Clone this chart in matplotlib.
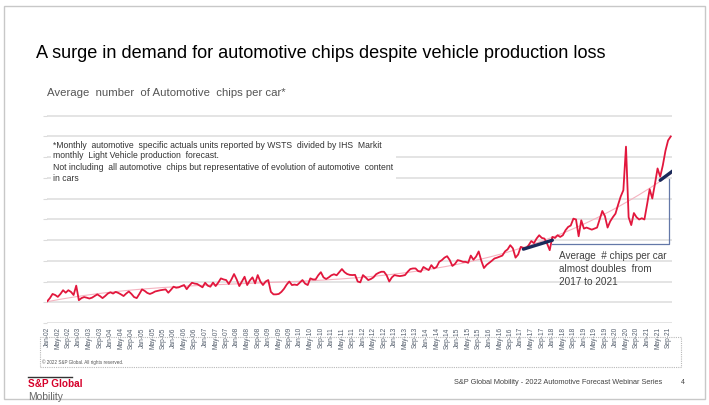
import numpy as np
import matplotlib.pyplot as plt
from matplotlib.patches import Rectangle
from matplotlib.lines import Line2D

W, H = 709, 405

# average number of automotive chips per car, monthly Jan-02 .. Oct-21
chips_2002 = [1.05, 1.20, 1.40, 1.35, 1.26, 1.40, 1.58, 1.46, 1.58, 1.50, 1.35, 1.80]
chips_2003 = [1.10, 1.20, 1.25, 1.22, 1.18, 1.22, 1.30, 1.38, 1.30, 1.20, 1.30, 1.42]
chips_2004 = [1.48, 1.42, 1.50, 1.45, 1.38, 1.30, 1.42, 1.52, 1.40, 1.25, 1.20, 1.40]
chips_2005 = [1.62, 1.55, 1.45, 1.40, 1.45, 1.52, 1.55, 1.58, 1.60, 1.62, 1.46, 1.60]
chips_2006 = [1.75, 1.70, 1.72, 1.78, 1.83, 1.63, 1.80, 1.94, 1.90, 1.88, 1.80, 1.72]
chips_2007 = [1.94, 1.80, 1.75, 1.95, 1.78, 1.95, 2.15, 2.10, 2.07, 1.88, 2.10, 2.36]
chips_2008 = [2.10, 1.78, 2.00, 2.23, 1.83, 2.05, 2.20, 1.91, 2.31, 2.00, 1.83, 2.00]
chips_2009 = [2.07, 1.50, 1.38, 1.38, 1.40, 1.50, 1.65, 1.85, 2.00, 1.83, 1.85, 1.83]
chips_2010 = [1.95, 2.07, 1.90, 1.83, 2.15, 2.10, 2.10, 2.30, 2.45, 2.20, 2.12, 2.20]
chips_2011 = [2.30, 2.35, 2.30, 2.45, 2.60, 2.45, 2.36, 2.32, 2.31, 2.32, 2.00, 1.96]
chips_2012 = [2.31, 2.20, 2.07, 2.12, 2.20, 2.35, 2.42, 2.47, 2.47, 2.30, 2.00, 2.20]
chips_2013 = [2.31, 2.28, 2.26, 2.28, 2.31, 2.47, 2.60, 2.63, 2.63, 2.50, 2.47, 2.70]
chips_2014 = [2.62, 2.55, 2.79, 2.63, 2.70, 2.95, 3.03, 3.15, 3.22, 3.03, 2.75, 2.85]
chips_2015 = [3.03, 3.00, 2.95, 2.95, 2.90, 3.25, 3.05, 3.20, 3.45, 3.00, 2.65, 2.80]
chips_2016 = [2.90, 3.00, 3.11, 3.15, 3.20, 3.25, 3.45, 3.55, 3.75, 3.60, 3.15, 3.30]
chips_2017 = [3.67, 3.62, 3.59, 3.75, 3.95, 3.85, 4.07, 4.23, 4.10, 4.07, 3.83, 3.51]
chips_2018 = [4.15, 4.10, 4.23, 4.15, 4.23, 4.47, 4.63, 4.70, 5.03, 4.99, 4.18, 4.95]
chips_2019 = [4.55, 4.60, 4.55, 4.50, 4.55, 4.60, 5.00, 5.40, 5.15, 4.60, 4.90, 5.10]
chips_2020 = [5.27, 5.70, 6.10, 6.40, 8.50, 5.10, 4.72, 5.30, 5.10, 4.99, 5.05, 4.99]
chips_2021 = [5.70, 6.45, 6.00, 6.70, 7.45, 7.05, 7.60, 8.30, 8.80, 8.99]

chips = (chips_2002 + chips_2003 + chips_2004 + chips_2005 + chips_2006 +
         chips_2007 + chips_2008 + chips_2009 + chips_2010 + chips_2011 +
         chips_2012 + chips_2013 + chips_2014 + chips_2015 + chips_2016 +
         chips_2017 + chips_2018 + chips_2019 + chips_2020 + chips_2021)
months = np.arange(len(chips))

# axis labels every four months
month_names = ["Jan", "May", "Sep"]
tick_labels = [f"{m}-{y % 100:02d}" for y in range(2002, 2022) for m in month_names]
tick_pos = np.arange(len(tick_labels)) * 4

# tangent marks on the trend (month index, value) for 2017 and 2021
tangent_2017 = ([181, 192], [3.56, 3.99])
tangent_2021 = ([233, 239.5], [6.88, 7.49])
# bracket from the 2017 mark over to the 2021 mark
bracket_x = [192, 236.5, 236.5]
bracket_y = [3.80, 3.80, 6.96]

note_lines = [
    "*Monthly  automotive  specific actuals units reported by WSTS  divided by IHS  Markit",
    "monthly  Light Vehicle production  forecast.",
    "Not including  all automotive  chips but representative of evolution of automotive  content",
    "in cars",
]
callout_lines = ["Average  # chips per car", "almost doubles  from", "2017 to 2021"]


def fx(x):
    return x / W


def fy(y):
    return 1 - y / H


plt.rcParams['font.family'] = ['Liberation Sans', 'DejaVu Sans']
fig = plt.figure(figsize=(W / 100, H / 100), dpi=100)

# slide frame
fig.add_artist(Rectangle((fx(4), fy(399)), fx(701), 393 / H, fill=False,
                         edgecolor='#c8c8c8', lw=1.0, transform=fig.transFigure))

ax = fig.add_axes([fx(46.5), fy(323), fx(625), 208.5 / H])
ax.plot(months, chips, color='#e2173d', lw=1.3, zorder=3)

# polynomial trend through the series
coef = np.polyfit(months, chips, 3)
ax.plot(months, np.polyval(coef, months), color='#f5b3c0', lw=0.8, zorder=2)

ax.plot(*tangent_2017, color='#1b2a5a', lw=2.4, solid_capstyle='round', zorder=4)
ax.plot(*tangent_2021, color='#1b2a5a', lw=2.4, solid_capstyle='round', zorder=4)
ax.plot(bracket_x, bracket_y, color='#6478a8', lw=0.9, zorder=2)

ax.set_xlim(-0.3, 237.3)
ax.set_ylim(0, 10.05)
ax.set_yticks(np.arange(0, 11))
ax.set_yticklabels([])
ax.grid(axis='y', color='#dcdcdc', lw=1.1)
ax.set_axisbelow(True)
ax.set_xticks(tick_pos)
ax.set_xticklabels(tick_labels, rotation=90, fontsize=4.8, color='#56606e', va='top')
ax.tick_params(length=0, pad=3)
ax.tick_params(axis='y', length=3, color='#dcdcdc', direction='out')
for s in ax.spines.values():
    s.set_visible(False)
ax.set_clip_on(False)

# callout text beside the bracket
for i, line in enumerate(callout_lines):
    fig.text(fx(559), fy(256 + i * 13), line, fontsize=7.2, color='#404040', va='center')

# footnote panel with white backing
fig.add_artist(Rectangle((fx(51), fy(186)), fx(345), 48 / H, facecolor='white',
                         edgecolor='none', transform=fig.transFigure, zorder=2))
for i, line in enumerate(note_lines):
    fig.text(fx(53), fy(145 + i * 11), line, fontsize=6.2, color='#333333',
             va='center', zorder=3)

# dotted frame round the axis labels and copyright line
fig.add_artist(Rectangle((fx(40), fy(367)), fx(641), 30 / H, fill=False,
                         edgecolor='#b8b8b8', lw=0.8, linestyle=(0, (1, 1)),
                         transform=fig.transFigure))
fig.text(fx(42), fy(362), "\u00a9 2022 S&P Global. All rights reserved.",
         fontsize=3.3, color='#555555', va='center')

fig.text(fx(36), fy(53), "A surge in demand for automotive chips despite vehicle production loss",
         fontsize=13.1, color='#000000', va='center')
fig.text(fx(47), fy(93), "Average  number  of Automotive  chips per car*",
         fontsize=8.2, color='#555555', va='center')

# footer
fig.add_artist(Line2D([fx(28), fx(72)], [fy(377), fy(377)], color='#333333', lw=1.0,
                      transform=fig.transFigure))
fig.text(fx(28), fy(384), "S&P Global", fontsize=7.2, color='#d6002a',
         fontweight='bold', va='center')
fig.text(fx(28), fy(397), "Mobility", fontsize=7.4, color='#666666', va='center')
fig.text(fx(662), fy(383), "S&P Global Mobility - 2022 Automotive Forecast Webinar Series",
         fontsize=5.3, color='#444444', va='center', ha='right')
fig.text(fx(681), fy(382), "4", fontsize=5, color='#444444', va='center')

fig.savefig('out.png', dpi=100, facecolor='white')
